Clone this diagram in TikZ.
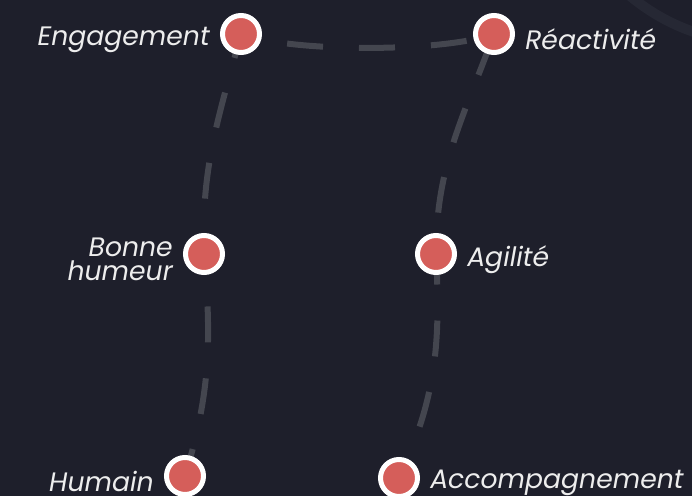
\documentclass[tikz,border=0pt]{standalone}
\usepackage{fontspec}
\setmainfont{Poppins}
\usetikzlibrary{positioning}

\definecolor{bgnavy}{HTML}{1E1F2B}
\definecolor{trailgray}{HTML}{44464F}
\definecolor{ringgray}{HTML}{262834}
\definecolor{dotred}{HTML}{D55E5A}
\definecolor{textwhite}{HTML}{EDEDED}

\begin{document}
\begin{tikzpicture}[x=0.75pt,y=0.75pt,
    dot/.style={circle, fill=dotred, draw=white, line width=3.75pt, minimum size=27.75pt, inner sep=0pt},
    trail/.style={trailgray, line width=4.5pt, dash pattern=on 27pt off 27pt, dash phase=6pt},
    lbl/.style={text=textwhite, font=\fontsize{20}{18}\selectfont\itshape, inner sep=0pt, node distance=7.5pt, yshift=-4pt}]

        % Background
        \fill[bgnavy] (0,0) rectangle (692,496);
        \clip (0,0) rectangle (692,496);
        \draw[ringgray, line width=7.5pt] (760,656) circle (203);

        % Stops
        \coordinate (hum) at (185,20);
        \coordinate (bon) at (204,242);
        \coordinate (eng) at (241,462);
        \coordinate (rea) at (494,462);
        \coordinate (agi) at (436,242);
        \coordinate (acc) at (399,18);

        % Trail
        \draw[trail] (hum) to[out=73,in=-85] (bon) to[out=92,in=255] (eng)
            to[out=-20,in=200,looseness=0.55] (rea) to[out=250,in=90] (agi)
            to[out=-87,in=65] (acc);

        % Dots
        \node[dot] (hum-dot) at (hum) {};
        \node[dot] (bon-dot) at (bon) {};
        \node[dot] (eng-dot) at (eng) {};
        \node[dot] (rea-dot) at (rea) {};
        \node[dot] (agi-dot) at (agi) {};
        \node[dot] (acc-dot) at (acc) {};

        % Labels
        \node[lbl, left=of eng-dot] (eng-lbl) {Engagement};
        \node[lbl, right=of rea-dot] (rea-lbl) {Réactivité};
        \node[lbl, left=of bon-dot, align=right] (bon-lbl) {Bonne\\humeur};
        \node[lbl, right=of agi-dot] (agi-lbl) {Agilité};
        \node[lbl, left=of hum-dot] (hum-lbl) {Humain};
        \node[lbl, right=of acc-dot] (acc-lbl) {Accompagnement};
    \end{tikzpicture}
\end{document}
